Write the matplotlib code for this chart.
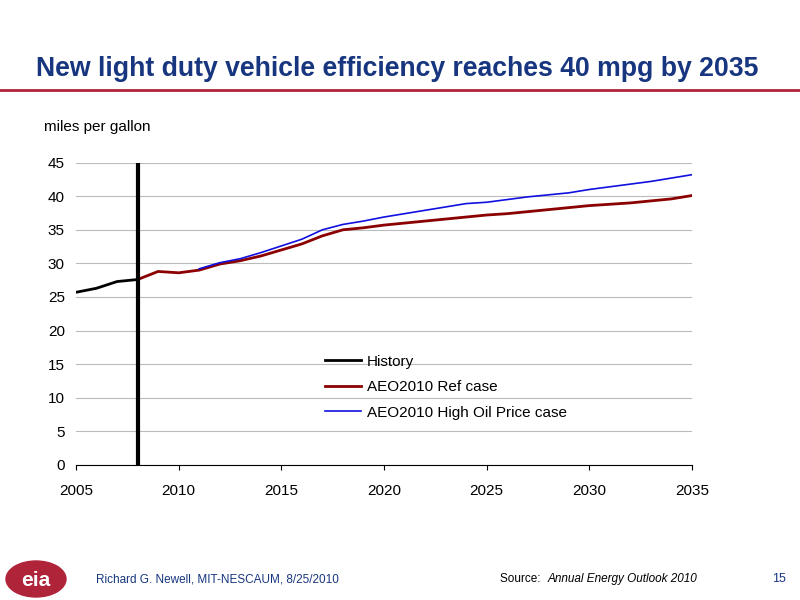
import matplotlib.pyplot as plt
from matplotlib.patches import Ellipse

hist_years = [2005, 2006, 2007, 2008]
hist_mpg = [25.7, 26.3, 27.3, 27.6]

ref_years = list(range(2008, 2036))
ref_mpg = [27.6, 28.8, 28.6, 29.0, 29.9, 30.4, 31.1, 32.0, 32.9, 34.1, 35.0, 35.3,
           35.7, 36.0, 36.3, 36.6, 36.9, 37.2, 37.4, 37.7, 38.0, 38.3, 38.6, 38.8,
           39.0, 39.3, 39.6, 40.1]

high_years = list(range(2011, 2036))
high_mpg = [29.2, 30.1, 30.7, 31.6, 32.6, 33.6, 35.0, 35.8, 36.3, 36.9, 37.4, 37.9,
            38.4, 38.9, 39.1, 39.5, 39.9, 40.2, 40.5, 41.0, 41.4, 41.8, 42.2, 42.7, 43.2]

fig = plt.figure(figsize=(8, 6), dpi=100)
fig.text(0.045, 0.885, "New light duty vehicle efficiency reaches 40 mpg by 2035",
         ha="left", va="center", fontsize=19.2, fontweight="bold", color="#17367f",
         family="Liberation Sans")
fig.add_artist(plt.Line2D([0, 1], [0.85, 0.85], color="#b0243a", lw=2))
fig.text(0.055, 0.788, "miles per gallon", fontsize=11, va="center",
         family="Liberation Sans")

ax = fig.add_axes([0.095, 0.225, 0.77, 0.504])
ax.plot(hist_years, hist_mpg, color="black", lw=2, label="History")
ax.plot(ref_years, ref_mpg, color="#8b0000", lw=2, label="AEO2010 Ref case")
ax.plot(high_years, high_mpg, color="#1010e0", lw=1.2, label="AEO2010 High Oil Price case")
ax.axvline(2008, color="black", lw=3)

ax.set_xlim(2005, 2035)
ax.set_ylim(0, 45)
ax.set_xticks(range(2005, 2036, 5))
ax.set_yticks(range(0, 46, 5))
ax.grid(axis="y", color="#bbbbbb", lw=0.8)
ax.set_axisbelow(True)
for s in ["top", "right", "left"]:
    ax.spines[s].set_visible(False)
ax.tick_params(axis="y", length=0, labelsize=11, pad=8)
ax.tick_params(axis="x", direction="out", labelsize=11, pad=10)
for lbl in ax.get_xticklabels() + ax.get_yticklabels():
    lbl.set_family("Liberation Sans")
ax.legend(loc="upper left", bbox_to_anchor=(0.395, 0.385), frameon=False,
          prop={"family": "Liberation Sans", "size": 11}, handlelength=2.3,
          handletextpad=0.4, borderaxespad=0, labelspacing=0.75)

fig.add_artist(Ellipse((0.045, 0.035), 0.075, 0.06, color="#b0243a"))
fig.text(0.045, 0.033, "eia", ha="center", va="center", fontsize=15,
         fontweight="bold", color="white", family="Liberation Sans")
fig.text(0.12, 0.035, "Richard G. Newell, MIT-NESCAUM, 8/25/2010", fontsize=8.5,
         color="#17367f", family="Liberation Sans", va="center")
fig.text(0.625, 0.035, "Source: ", fontsize=8.5, family="Liberation Sans", va="center")
fig.text(0.685, 0.035, "Annual Energy Outlook 2010", fontsize=8.5, style="italic",
         family="Liberation Sans", va="center")
fig.text(0.965, 0.035, "15", fontsize=9, color="#17367f", family="Liberation Sans",
         va="center")

fig.savefig("out.png", dpi=100)
